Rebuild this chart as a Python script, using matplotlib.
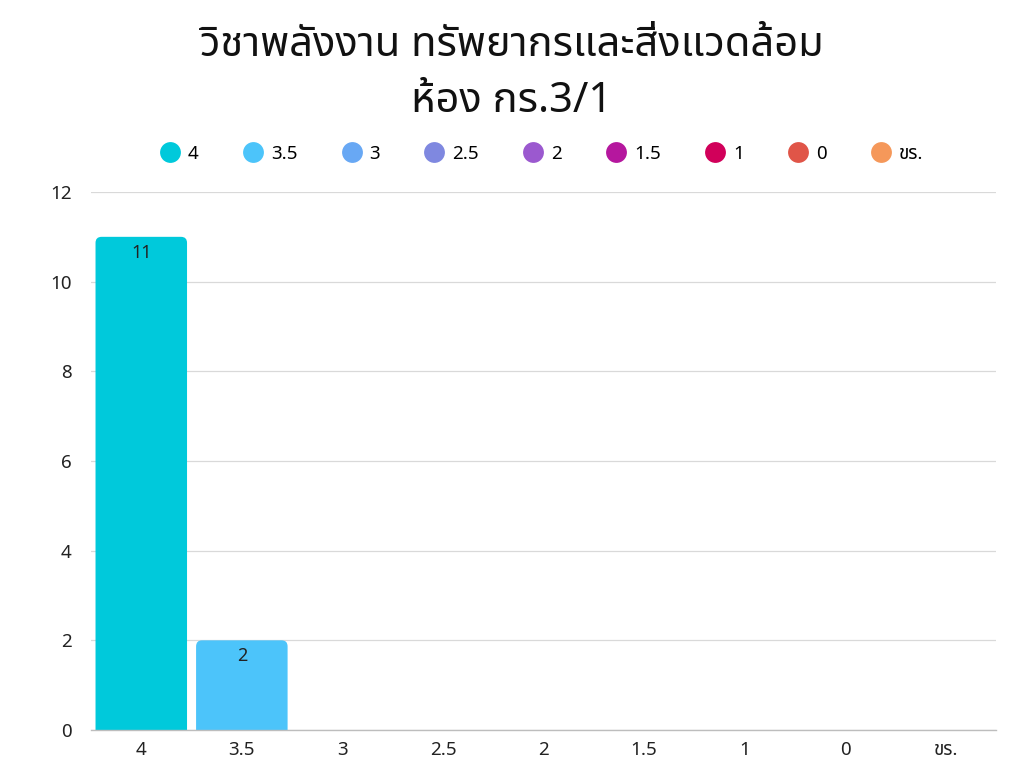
import matplotlib
matplotlib.use("Agg")
import matplotlib.pyplot as plt
from matplotlib.patches import FancyBboxPatch
from matplotlib.lines import Line2D

plt.rcParams['font.family'] = ['Noto Sans Thai', 'Noto Sans', 'DejaVu Sans']

title_line1 = "วิชาพลังงาน ทรัพยากรและสิ่งแวดล้อม"
title_line2 = "ห้อง กร.3/1"
categories = ["4", "3.5", "3", "2.5", "2", "1.5", "1", "0", "ขร."]
counts = [11, 2, 0, 0, 0, 0, 0, 0, 0]
colors = ["#00C9DB", "#4CC4FA", "#68A8F4", "#7F88E0", "#9B59CF",
          "#B5179E", "#D1005A", "#E05548", "#F5985A"]
yticks = [0, 2, 4, 6, 8, 10, 12]

L, R, B, T = 91, 996, 730, 192
fig = plt.figure(figsize=(10.24, 7.68), dpi=100)
ax = fig.add_axes([L/1024, 1-B/768, (R-L)/1024, (B-T)/768])

x = list(range(len(categories)))
bars = ax.bar(x, counts, width=0.91, color=colors)
ax.set_xlim(-0.5, len(categories) - 0.5)
ax.set_ylim(0, 12)

# rounded top corners
px_x = (R - L) / len(categories)
px_y = (B - T) / 12
r = 0.06
for b, c, v in zip(bars, colors, counts):
    b.set_visible(False)
    if v <= 0:
        continue
    p = FancyBboxPatch((b.get_x(), -0.5), b.get_width(), v + 0.5,
                       boxstyle=f"round,pad=0,rounding_size={r}",
                       mutation_aspect=(r * px_x / px_y) / r,
                       facecolor=c, edgecolor='none', zorder=2)
    ax.add_patch(p)
    ax.annotate(str(v), (b.get_x() + b.get_width() / 2, v), xytext=(0, -11.5),
                textcoords='offset points', ha='center', va='center',
                fontsize=13, color='#222222', zorder=3)

ax.set_yticks(yticks)
ax.set_xticks(x)
ax.set_xticklabels(categories)
ax.tick_params(axis='both', length=0, labelsize=13.5, colors='#222222')
ax.tick_params(axis='y', pad=14)
ax.tick_params(axis='x', pad=8)
ax.grid(axis='y', color='#d9d9d9', linewidth=0.9, zorder=0)
ax.set_axisbelow(True)
for s in ['top', 'right', 'left']:
    ax.spines[s].set_visible(False)
ax.spines['bottom'].set_color('#bdbdbd')
ax.spines['bottom'].set_linewidth(1.0)

handles = [Line2D([], [], marker='o', linestyle='none', markersize=15,
                  markerfacecolor=c, markeredgecolor='none') for c in colors]
fig.legend(handles, categories, loc='center', bbox_to_anchor=(541/1024, 1-154/768),
           ncol=len(categories), frameon=False, fontsize=13.5, handletextpad=0.35,
           columnspacing=2.3, handlelength=1.2)

fig.text(0.5, 1-45/768, title_line1, ha='center', va='center', fontsize=30, color='#111111')
fig.text(0.5, 1-101/768, title_line2, ha='center', va='center', fontsize=30, color='#111111')

fig.savefig("out.png", dpi=100, facecolor='white')
